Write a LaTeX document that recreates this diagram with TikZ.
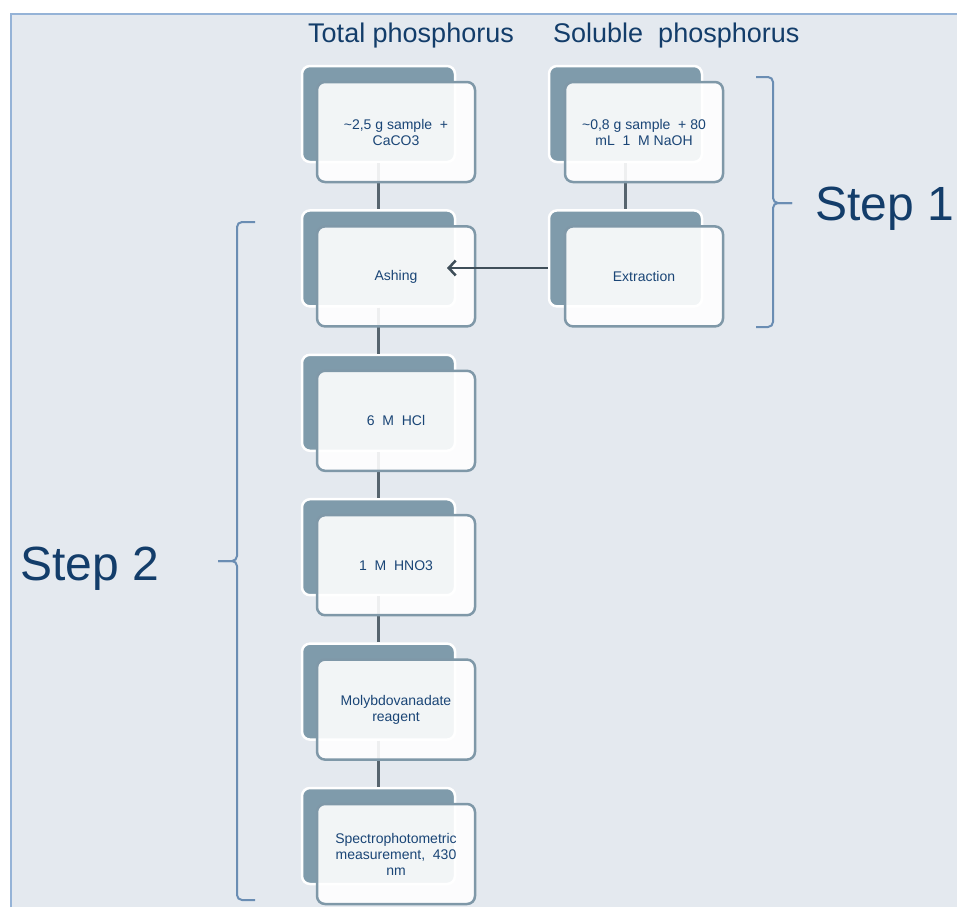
\documentclass[tikz,border=0pt]{standalone}
\usepackage{fontspec}
\setmainfont{Liberation Sans}
\usetikzlibrary{arrows.meta}
\definecolor{panelbg}{HTML}{E4E9EF}
\definecolor{panelline}{HTML}{95B3D7}
\definecolor{cardback}{HTML}{7F9BAB}
\definecolor{cardline}{HTML}{7F98A8}
\definecolor{inktext}{HTML}{1A4576}
\definecolor{headink}{HTML}{133D6A}
\definecolor{linkgray}{HTML}{56646E}
\definecolor{arrowgray}{HTML}{3F4E59}
\definecolor{bracecol}{HTML}{6A8DB3}

\begin{document}
\begin{tikzpicture}[x=1pt, y=-1pt,
    backcard/.style={fill=cardback, draw=white, line width=2.5pt, rounded corners=8pt,
        minimum width=153pt, minimum height=96pt, inner sep=0pt},
    frontcard/.style={fill=white, fill opacity=0.9, text opacity=1, draw=cardline,
        line width=2.5pt, rounded corners=8pt, minimum width=158pt, minimum height=100pt,
        inner sep=0pt, align=center, text=inktext, font=\fontsize{14}{16}\selectfont},
    link/.style={draw=linkgray, line width=3pt},
    header/.style={text=headink, font=\fontsize{27}{30}\selectfont, inner sep=0pt},
    steplabel/.style={text=headink, font=\fontsize{48}{52}\selectfont, inner sep=0pt},
    bracket/.style={draw=bracecol, line width=2pt, rounded corners=5pt}]
    \useasboundingbox (0,0) rectangle (957,907);
    % Panel
    \fill[panelbg] (10,13) rectangle (957,907);
    \draw[panelline, line width=2pt] (11,907) -- (11,14) -- (957,14);
    % Column headers
    \node[header, anchor=base west] (hdtotal) at (308,43) {Total phosphorus};
    \node[header, anchor=base west] (hdsol) at (553,43) {Soluble\ \ phosphorus};
    % Back cards, total phosphorus
    \node[backcard] (samp-b) at (378.5,114) {};
    \node[backcard] (ash-b) at (378.5,258.4) {};
    \node[backcard] (hcl-b) at (378.5,402.8) {};
    \node[backcard] (hno-b) at (378.5,547.2) {};
    \node[backcard] (moly-b) at (378.5,691.6) {};
    \node[backcard] (spec-b) at (378.5,836) {};
    % Back cards, soluble phosphorus
    \node[backcard] (naoh-b) at (625.5,114) {};
    \node[backcard] (ext-b) at (625.5,258.4) {};
    % Links
    \draw[link] (samp-b.south) -- (ash-b.north);
    \draw[link] (ash-b.south) -- (hcl-b.north);
    \draw[link] (hcl-b.south) -- (hno-b.north);
    \draw[link] (hno-b.south) -- (moly-b.north);
    \draw[link] (moly-b.south) -- (spec-b.north);
    \draw[link] (naoh-b.south) -- (ext-b.north);
    % Front cards
    \node[frontcard] (samp) at (396,132) {\textasciitilde 2,5 g sample\ \ +\\CaCO3};
    \node[frontcard] (ash) at (396,276.4) {Ashing};
    \node[frontcard] (hcl) at (396,420.8) {6\ \ M\ \ HCl};
    \node[frontcard] (hno) at (396,565.2) {1\ \ M\ \ HNO3};
    \node[frontcard] (moly) at (396,709.6) {Molybdovanadate\\reagent};
    \node[frontcard] (spec) at (396,854) {Spectrophotometric\\measurement,\ \ 430\\nm};
    \node[frontcard] (naoh) at (644,132) {\textasciitilde 0,8 g sample\ \ + 80\\mL\ \ 1\ \ M NaOH};
    \node[frontcard] (ext) at (644,276.4) {Extraction};
    % Extract goes to ashing
    \coordinate (ashin) at (447,268);
    \draw[draw=arrowgray, line width=2.5pt, -{Straight Barb[length=7pt,width=15pt]}]
        (ext-b.west |- ashin) -- (ashin);
    % Step 1 bracket
    \draw[bracket] (756,77) -- (773,77) -- (773,203) -- (792,203);
    \draw[bracket] (792,203) -- (773,203) -- (773,327) -- (756,327);
    \node[steplabel, anchor=base west] (stepone) at (815,220) {Step 1};
    % Step 2 bracket
    \draw[bracket] (255,222) -- (237,222) -- (237,561) -- (218,561);
    \draw[bracket] (218,561) -- (237,561) -- (237,900) -- (255,900);
    \node[steplabel, anchor=base west] (steptwo) at (20,580) {Step 2};
\end{tikzpicture}
\end{document}
